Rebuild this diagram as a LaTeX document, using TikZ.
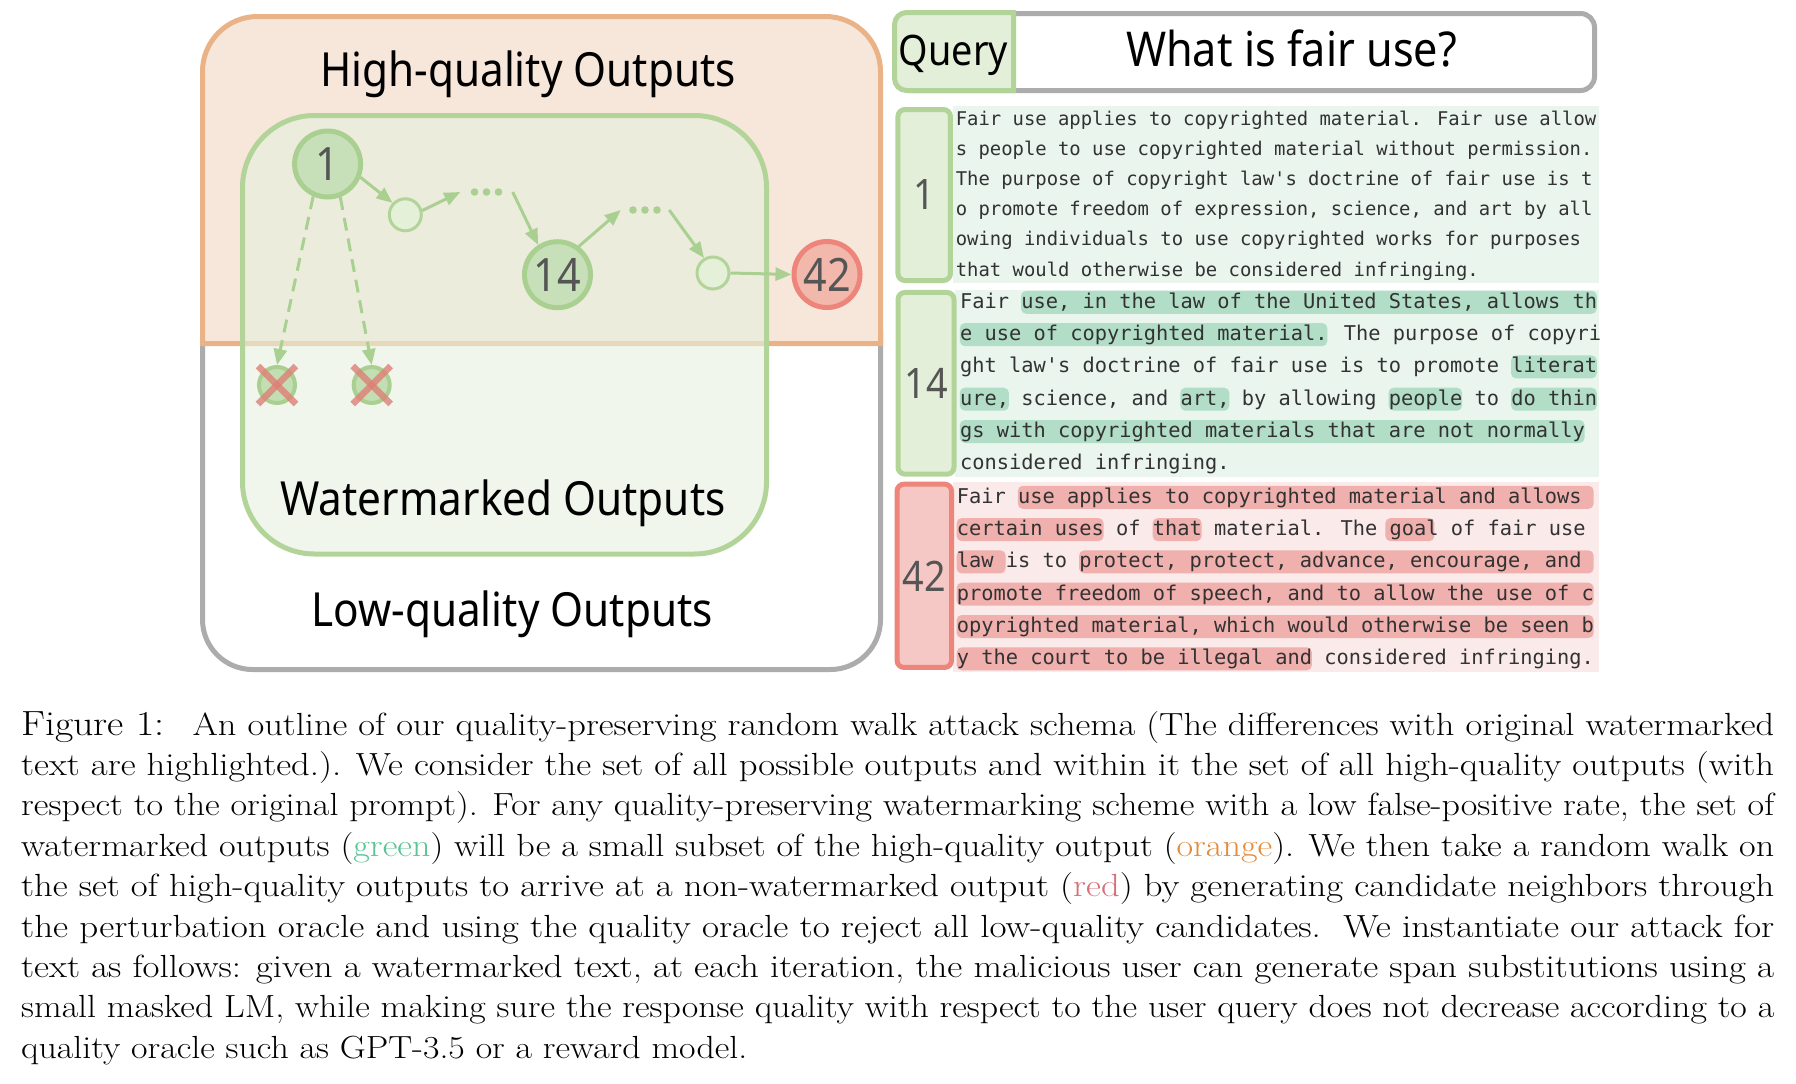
\documentclass[tikz,border=0pt]{standalone}
\usepackage{fontspec}
\usepackage{graphicx}
\usetikzlibrary{arrows.meta}
\newfontfamily\dsans[FakeStretch=0.9]{Noto Sans}
\newfontfamily\dmono[Ligatures=TeXOff]{DejaVu Sans Mono}
\definecolor{orfill}{RGB}{247,230,218}
\definecolor{orline}{RGB}{234,178,135}
\definecolor{grayline}{RGB}{172,172,172}
\definecolor{gline}{RGB}{178,212,153}
\definecolor{gboxfill}{RGB}{230,240,223}
\definecolor{gnode}{RGB}{200,224,185}
\definecolor{gnodeline}{RGB}{170,208,145}
\definecolor{gsmall}{RGB}{228,240,216}
\definecolor{rnode}{RGB}{242,184,171}
\definecolor{rnodeline}{RGB}{238,133,122}
\definecolor{xred}{RGB}{222,128,118}
\definecolor{cellg}{RGB}{227,239,217}
\definecolor{cellr}{RGB}{246,200,197}
\definecolor{mintbg}{RGB}{234,245,238}
\definecolor{minthl}{RGB}{178,222,200}
\definecolor{pinkbg}{RGB}{251,234,234}
\definecolor{pinkhl}{RGB}{240,176,174}
\definecolor{monotxt}{RGB}{50,50,50}
\definecolor{numtxt}{RGB}{85,85,85}
\definecolor{capgreen}{RGB}{90,196,150}
\definecolor{caporange}{RGB}{228,140,60}
\definecolor{capred}{RGB}{215,110,120}
\newcommand{\hlspan}[5]{\fill[#1] ({#2+#4*12.25},{#3-17.5}) rectangle ({#2+#5*12.25},{#3+5.5});}
\newcommand{\capline}[1]{\resizebox{1753pt}{\height}{#1}}
\tikzset{
  bignum/.style={circle,draw=gnodeline,fill=gnode,line width=5pt,minimum size=66pt,inner sep=0pt,
    font=\dsans\fontsize{46}{46}\selectfont,text=numtxt},
  redbignum/.style={bignum,draw=rnodeline,fill=rnode},
  smallc/.style={circle,draw=gline,fill=gsmall,line width=3pt,minimum size=32pt,inner sep=0pt},
  xc/.style={circle,draw=gnodeline,fill=gnode!85!gnodeline,line width=4pt,minimum size=36pt,inner sep=0pt},
  dotsnode/.style={inner sep=0pt,minimum height=10pt},
  arr/.style={draw=gnodeline,line width=3pt,-{Triangle[length=16pt,width=13pt]}},
  dasharr/.style={arr,dash pattern=on 13pt off 8pt},
  xmark/.style={draw=xred,line width=6.5pt,opacity=0.8},
  title/.style={font=\dsans\fontsize{47}{50}\selectfont,inner sep=0pt,anchor=base},
  labelcell/.style={rectangle,rounded corners=7pt,draw=gline,fill=cellg,line width=5pt,inner sep=0pt,
    font=\dsans\fontsize{42}{42}\selectfont,text=numtxt},
  redcell/.style={labelcell,draw=rnodeline,fill=cellr},
  monoA/.style={font=\dmono\fontsize{18.885}{20}\selectfont,text=monotxt,inner sep=0pt,anchor=base west},
  monoB/.style={font=\dmono\fontsize{20.35}{22}\selectfont,text=monotxt,inner sep=0pt,anchor=base west},
  hlg/.style={fill=minthl,rounded corners=5pt},
  hlr/.style={fill=pinkhl,rounded corners=5pt},
  captxt/.style={font=\fontsize{32}{34}\selectfont,inner sep=0pt,anchor=base west},
}
\begin{document}
\begin{tikzpicture}[x=1pt,y=-1pt]
\useasboundingbox (0,0) rectangle (1796,1084);
\fill[white] (0,0) rectangle (1796,1084);
% ---------------- left diagram ----------------
\draw[grayline,line width=5pt,fill=white,rounded corners=50pt]
  (202.5,330) -- (202.5,669.5) -- (880.5,669.5) -- (880.5,330);
\draw[orline,fill=orfill,line width=5pt]
  (202.5,343.5) [rounded corners=55pt]-- (202.5,16.5) -- (880.5,16.5) [sharp corners]-- (880.5,343.5) -- cycle;
\fill[gboxfill,fill opacity=0.6,rounded corners=72pt] (242.5,115.5) rectangle (766.5,554);
\draw[gline,line width=5pt,rounded corners=72pt] (242.5,115.5) rectangle (766.5,554);
\node[title] (hq) at (528,86) {High-quality Outputs};
\node[title] (wm) at (503,515) {Watermarked Outputs};
\node[title] (lq) at (512,626.7) {Low-quality Outputs};
% nodes of the walk
\node[bignum] (n1) at (327.6,164) {1};
\node[smallc] (c1) at (405.3,214.8) {};
\node[dotsnode,minimum width=52pt] (dots1) at (486.5,192) {};
\node[bignum] (n14) at (557.5,274.7) {14};
\node[dotsnode,minimum width=48pt] (dots2) at (645,210) {};
\node[smallc] (c2) at (713,273) {};
\node[redbignum] (n42) at (827,274.5) {42};
\node[xc] (x1) at (277,385) {};
\node[xc] (x2) at (371.7,385) {};
\foreach \d in {dots1,dots2}{
  \fill[gnodeline] (\d.center) +(-12,0) circle (3.8) +(0,0) circle (3.8) +(12,0) circle (3.8);
}
\draw[xmark] (x1.center) +(-19,-19) -- +(19,19);
\draw[xmark] (x1.center) +(-19,19) -- +(19,-19);
\draw[xmark] (x2.center) +(-19,-19) -- +(19,19);
\draw[xmark] (x2.center) +(-19,19) -- +(19,-19);
\draw[arr] (n1.-22) -- (c1.137);
\draw[arr] (c1.14) -- (dots1.west);
\draw[arr] (dots1.east) -- (n14.123);
\draw[arr] (n14.53) -- (dots2.west);
\draw[arr] (dots2.east) -- (c2.121);
\draw[arr] (c2.east) -- (n42.west);
\draw[dasharr] (n1.-114) -- (x1.north);
\draw[dasharr] (n1.-69) -- (x2.north);
% ---------------- right panel ----------------
\draw[grayline,line width=5pt,fill=white,rounded corners=14pt] (895.5,13.5) rectangle (1594.5,90.5);
\draw[gline,fill=cellg,line width=5pt]
  (1013.5,12.5) [rounded corners=12pt]-- (894.5,12.5) -- (894.5,90.5) [sharp corners]-- (1013.5,90.5) -- cycle;
\node[font=\dsans\fontsize{42}{42}\selectfont,inner sep=0pt,anchor=base] (query) at (953.5,65) {Query};
\node[font=\dsans\fontsize{48}{48}\selectfont,inner sep=0pt,anchor=base] (qtext) at (1291.5,66.7) {What is fair use?};
% backgrounds
\fill[mintbg] (953,106) rectangle (1599,283);
\fill[mintbg] (955,290) rectangle (1599,476.7);
\fill[pinkbg] (953,481.7) rectangle (1599,671.7);
% highlights box 14
\hlspan{hlg}{959.8}{308.3}{5}{52}
\hlspan{hlg}{959.8}{340.6}{0}{30}
\hlspan{hlg}{959.8}{372.9}{45}{52}
\hlspan{hlg}{959.8}{405.2}{0}{4}
\hlspan{hlg}{959.8}{405.2}{18}{22}
\hlspan{hlg}{959.8}{405.2}{35}{41}
\hlspan{hlg}{959.8}{405.2}{45}{52}
\hlspan{hlg}{959.8}{437.5}{0}{51}
% highlights box 42
\hlspan{hlr}{956.6}{503.3}{5}{52}
\hlspan{hlr}{956.6}{535.6}{0}{12}
\hlspan{hlr}{956.6}{535.6}{16}{20}
\hlspan{hlr}{956.6}{535.6}{35}{39}
\hlspan{hlr}{956.6}{567.9}{0}{4}
\hlspan{hlr}{956.6}{567.9}{10}{52}
\hlspan{hlr}{956.6}{600.2}{0}{52}
\hlspan{hlr}{956.6}{632.5}{0}{52}
\hlspan{hlr}{956.6}{664.8}{0}{29}
% label cells
\node[labelcell,minimum width=52.5pt,minimum height=171pt] (l1) at (924.2,195) {1};
\node[labelcell,minimum width=56pt,minimum height=181.7pt] (l14) at (926,383.3) {14};
\node[redcell,minimum width=54.5pt,minimum height=183.3pt] (l42) at (924.3,575.8) {42};
% text box 1
\node[monoA] (a1) at (955.6,125) {Fair use applies to copyrighted material. Fair use allow};
\node[monoA] (a2) at (955.6,155.2) {s people to use copyrighted material without permission.};
\node[monoA] (a3) at (955.6,185.4) {The purpose of copyright law's doctrine of fair use is t};
\node[monoA] (a4) at (955.6,215.6) {o promote freedom of expression, science, and art by all};
\node[monoA] (a5) at (955.6,245.8) {owing individuals to use copyrighted works for purposes};
\node[monoA] (a6) at (955.6,276) {that would otherwise be considered infringing.};
% text box 14
\node[monoB] (b1) at (959.8,308.3) {Fair use, in the law of the United States, allows th};
\node[monoB] (b2) at (959.8,340.6) {e use of copyrighted material. The purpose of copyri};
\node[monoB] (b3) at (959.8,372.9) {ght law's doctrine of fair use is to promote literat};
\node[monoB] (b4) at (959.8,405.2) {ure, science, and art, by allowing people to do thin};
\node[monoB] (b5) at (959.8,437.5) {gs with copyrighted materials that are not normally};
\node[monoB] (b6) at (959.8,469.8) {considered infringing.};
% text box 42
\node[monoB] (r1) at (956.6,503.3) {Fair use applies to copyrighted material and allows};
\node[monoB] (r2) at (956.6,535.6) {certain uses of that material. The goal of fair use};
\node[monoB] (r3) at (956.6,567.9) {law is to protect, protect, advance, encourage, and};
\node[monoB] (r4) at (956.6,600.2) {promote freedom of speech, and to allow the use of c};
\node[monoB] (r5) at (956.6,632.5) {opyrighted material, which would otherwise be seen b};
\node[monoB] (r6) at (956.6,664.8) {y the court to be illegal and considered infringing.};
% ---------------- caption ----------------
\node[captxt] (cap1) at (21,735) {\capline{{\fontsize{35}{40}\selectfont Figure 1:}\hspace{12pt} An outline of our quality-preserving random walk attack schema (The differences with original watermarked}};
\node[captxt] (cap2) at (21,775.4) {\capline{text are highlighted.). We consider the set of all possible outputs and within it the set of all high-quality outputs (with}};
\node[captxt] (cap3) at (21,815.8) {\capline{respect to the original prompt). For any quality-preserving watermarking scheme with a low false-positive rate, the set of}};
\node[captxt] (cap4) at (21,856.2) {\capline{watermarked outputs (\textcolor{capgreen}{green}) will be a small subset of the high-quality output (\textcolor{caporange}{orange}). We then take a random walk on}};
\node[captxt] (cap5) at (21,896.6) {\capline{the set of high-quality outputs to arrive at a non-watermarked output (\textcolor{capred}{red}) by generating candidate neighbors through}};
\node[captxt] (cap6) at (21,937) {\capline{the perturbation oracle and using the quality oracle to reject all low-quality candidates.\ \ We instantiate our attack for}};
\node[captxt] (cap7) at (21,977.4) {\capline{text as follows: given a watermarked text, at each iteration, the malicious user can generate span substitutions using a}};
\node[captxt] (cap8) at (21,1017.8) {\capline{small masked LM, while making sure the response quality with respect to the user query does not decrease according to a}};
\node[captxt] (cap9) at (21,1058.2) {\scalebox{1.12}[1]{quality oracle such as GPT-3.5 or a reward model.}};
\end{tikzpicture}
\end{document}
